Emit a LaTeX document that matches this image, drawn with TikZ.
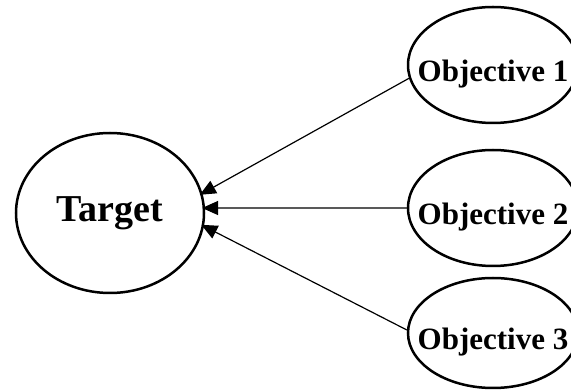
\documentclass[tikz,border=0pt]{standalone}
\usepackage{fontspec}
\setmainfont{Liberation Serif}
\usetikzlibrary{arrows.meta,shapes.geometric}

\tikzset{
  goal/.style={draw, ellipse, line width=2.5pt, inner sep=0pt,
    font=\bfseries\fontsize{38}{40}\selectfont},
  objective/.style={draw, ellipse, line width=2.5pt, inner ysep=0pt, inner xsep=-16pt,
    minimum width=170pt, minimum height=116pt, text height=34pt, text depth=0pt,
    font=\bfseries\fontsize{31}{33}\selectfont},
  link/.style={line width=1.2pt, -{Triangle[length=16pt, width=14pt]}, shorten >=-3pt}
}

\begin{document}
\begin{tikzpicture}[x=1pt, y=1pt]
  \useasboundingbox (0,0) rectangle (571,391);

  \node[goal, minimum width=188pt, minimum height=160pt] (target) at (110,178) {Target};
  \node[objective] (obj1) at (493,326) {Objective 1};
  \node[objective] (obj2) at (493,183) {Objective 2};
  \node[objective, minimum height=110pt] (obj3) at (493,58) {Objective 3};

  \draw[link] (obj1.189) -- (target.12);
  \draw[link] (obj2.west) -- (target.3);
  \draw[link] (obj3.178) -- (target.-8);

\end{tikzpicture}
\end{document}
